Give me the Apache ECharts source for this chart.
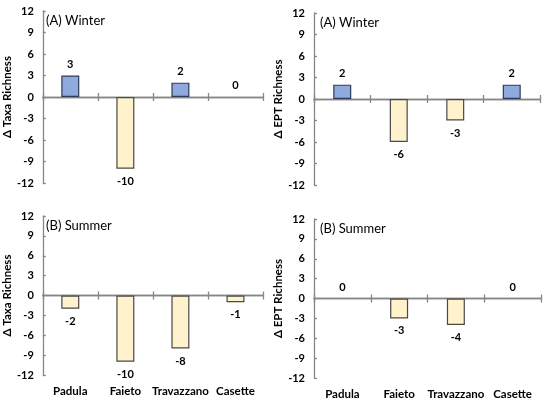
<!DOCTYPE html>
<html><head><meta charset="utf-8">
<script src="https://cdn.jsdelivr.net/npm/echarts@6/dist/echarts.min.js"></script>
<style>html,body{margin:0;padding:0;background:#fff}#c{width:550px;height:407px}</style>
</head><body><div id="c"></div>
<script>
const categories = ['Padula', 'Faieto', 'Travazzano', 'Casette'];
const taxaWinter = [3, -10, 2, 0];
const eptWinter = [2, -6, -3, 2];
const taxaSummer = [-2, -10, -8, -1];
const eptSummer = [0, -3, -4, 0];
const panelTitles = ['(A) Winter', '(A) Winter', '(B) Summer', '(B) Summer'];
const yNames = ['\u0394 Taxa Richness', '\u0394 EPT Richness', '\u0394 Taxa Richness', '\u0394 EPT Richness'];
const yTicks = [-12, -9, -6, -3, 0, 3, 6, 9, 12];

const FONT = 'Lato, "Open Sans", sans-serif';
const AXIS = '#868686';
const panels = [
  { data: taxaWinter, grid: { left: 40, top: 11, width: 223, height: 172 }, showCats: false },
  { data: eptWinter, grid: { left: 314, top: 13, width: 226, height: 172 }, showCats: false },
  { data: taxaSummer, grid: { left: 40, top: 216, width: 223, height: 159 }, showCats: true },
  { data: eptSummer, grid: { left: 314, top: 219, width: 227, height: 159 }, showCats: true }
];
const N = panels.length;

const grid = [], xAxis = [], yAxis = [], series = [], graphic = [];
panels.forEach((p, i) => {
  grid.push(p.grid);
  const base = xAxis.length;
  xAxis.push({
    gridIndex: i, type: 'category', data: categories, position: 'bottom',
    axisLine: { show: false, onZero: false }, axisTick: { show: false },
    axisLabel: { show: p.showCats, margin: 10, color: '#000', fontWeight: 'bold', fontSize: 11.5, fontFamily: FONT, interval: 0 }
  });
  xAxis.push({
    gridIndex: i, type: 'category', data: categories, position: 'bottom',
    axisLine: { show: true, onZero: true, onZeroAxisIndex: i, lineStyle: { color: AXIS, width: 1.3 } },
    axisTick: { show: true, inside: true, length: 4, interval: 0, lineStyle: { color: AXIS, width: 1.3 } },
    axisLabel: { show: false, interval: 0 }
  });
  xAxis.push({
    gridIndex: i, type: 'category', data: categories, position: 'bottom',
    axisLine: { show: true, onZero: true, onZeroAxisIndex: N + i, lineStyle: { color: AXIS, width: 1.3 } },
    axisTick: { show: true, inside: false, length: 4, interval: 0, lineStyle: { color: AXIS, width: 1.3 } },
    axisLabel: { show: false, interval: 0 }
  });
  yAxis[i] = {
    gridIndex: i, type: 'value', min: yTicks[0], max: yTicks[yTicks.length - 1], interval: 3,
    name: yNames[i], nameLocation: 'middle', nameGap: 27,
    nameTextStyle: { color: '#000', fontWeight: 'bold', fontSize: 11.5, fontFamily: FONT },
    axisLine: { show: true, lineStyle: { color: AXIS, width: 1.3 } },
    axisTick: { show: true, inside: true, length: 3, lineStyle: { color: AXIS, width: 1.3 } },
    splitLine: { show: false },
    axisLabel: { color: '#000', fontWeight: 'bold', fontSize: 11, fontFamily: FONT, margin: 9 }
  };
  yAxis[N + i] = {
    gridIndex: i, type: 'value', min: yTicks[0], max: yTicks[yTicks.length - 1], interval: 3,
    show: false, position: 'left'
  };
  series.push({
    type: 'bar', xAxisIndex: base, yAxisIndex: i, barWidth: 18,
    data: p.data.map(v => ({
      value: v,
      itemStyle: v > 0
        ? { color: '#8FAADC', borderColor: '#2F3B56', borderWidth: 1.2 }
        : (v < 0 ? { color: '#FFF2CC', borderColor: '#4A4A44', borderWidth: 1.2 }
                 : { color: 'rgba(0,0,0,0)', borderWidth: 0 }),
      label: { position: v >= 0 ? 'top' : 'bottom', distance: v >= 0 ? 6 : 7 }
    })),
    label: { show: true, color: '#000', fontWeight: 'bold', fontSize: 11, fontFamily: FONT }
  });
  graphic.push({
    type: 'text', left: p.grid.left + 6, top: p.grid.top + 3,
    style: { text: panelTitles[i], fill: '#000', fontSize: 13, fontFamily: FONT }
  });
});

const chart = echarts.init(document.getElementById('c'), null, { renderer: 'canvas' });
chart.setOption({ animation: false, backgroundColor: '#fff', grid, xAxis, yAxis, series, graphic });
</script></body></html>
